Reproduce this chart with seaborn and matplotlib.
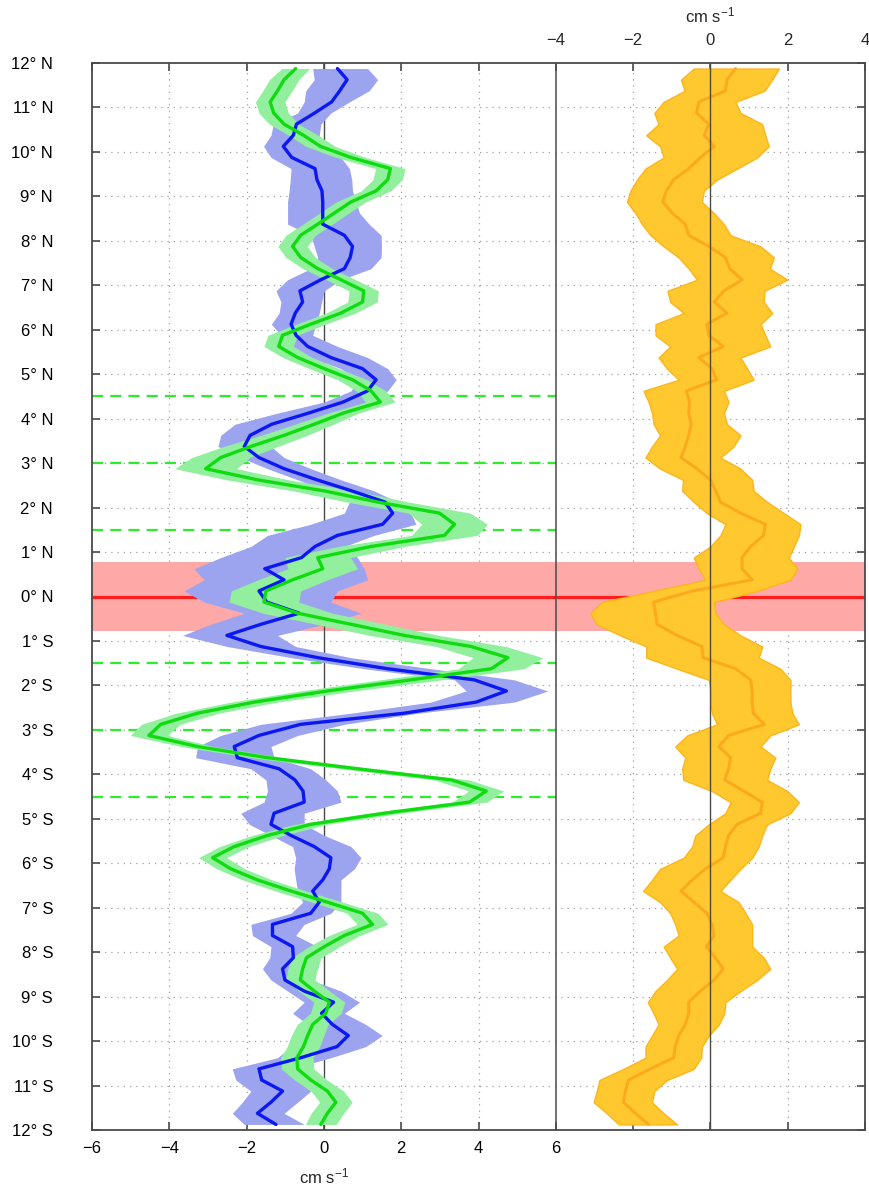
import numpy as np
import pandas as pd
import matplotlib
matplotlib.use("Agg")
import matplotlib.pyplot as plt
import matplotlib.transforms as mtransforms
import seaborn as sns

# ---- latitude grid of the profiles (0.25 degree spacing, north to south) ----
lat = np.arange(11.875, -12.0, -0.25)

# ---- left panel: blue profile with its uncertainty envelope (cm/s) ----
blue_mean = [0.35, 0.60, 0.41, 0.20, -0.24, -0.71, -0.79, -1.05, -0.83, -0.23,
             -0.18, -0.05, -0.03, -0.03, -0.03, 0.53, 0.74, 0.68, 0.53, -0.08,
             -0.62, -0.55, -0.74, -0.85, -0.72, -0.42, 0.18, 1.00, 1.35, 1.13,
             0.50, -0.40, -1.35, -1.91, -2.06, -1.68, -1.03, -0.18, 0.72, 1.58,
             1.78, 1.52, 0.35, -0.23, -0.58, -1.53, -1.03, -1.68, -1.48, -0.64,
             -1.63, -2.51, -1.63, -0.16, 1.65, 3.89, 4.72, 3.94, 2.08, -0.60,
             -1.68, -2.32, -2.24, -1.16, -0.75, -0.54, -0.51, -1.29, -1.37, -0.85,
             -0.25, 0.18, 0.14, -0.03, -0.29, -0.12, -0.34, -1.33, -1.33, -0.81,
             -0.79, -1.07, -1.01, -0.51, 0.25, -0.06, 0.22, 0.63, 0.34, -0.60,
             -1.68, -1.61, -1.07, -1.37, -1.72, -1.24]
blue_lo = [-0.29, -0.25, -0.47, -0.51, -0.68, -1.31, -1.37, -1.56, -1.37, -0.85,
           -0.87, -0.90, -0.94, -0.94, -0.94, -0.34, -0.25, -0.16, -0.34, -0.94,
           -1.24, -1.11, -1.16, -1.36, -1.11, -0.85, -0.34, 0.44, 0.87, 0.70,
           0.01, -1.20, -2.30, -2.67, -2.74, -2.15, -1.46, -0.68, 0.09, 0.66,
           0.53, -0.34, -1.46, -1.89, -2.67, -3.36, -3.10, -3.62, -3.10, -2.06,
           -2.93, -3.66, -2.50, -0.85, 1.04, 3.38, 3.68, 2.77, 0.70, -1.63,
           -2.67, -3.27, -3.32, -1.89, -1.50, -1.46, -1.55, -2.15, -1.93, -1.37,
           -0.81, -0.73, -0.77, -0.73, -0.68, -0.55, -0.85, -1.89, -1.85, -1.37,
           -1.40, -1.59, -1.37, -0.94, -0.51, -0.81, -0.42, -0.68, -0.85, -1.20,
           -2.37, -2.28, -1.89, -2.11, -2.37, -2.06]
blue_hi = [1.13, 1.39, 1.17, 0.66, 0.18, -0.08, -0.12, 0.01, 0.44, 0.66,
           0.72, 0.74, 0.83, 0.92, 1.17, 1.48, 1.49, 1.48, 1.22, 0.44,
           0.01, -0.06, -0.12, -0.21, -0.29, 0.35, 1.13, 1.65, 1.87, 1.65,
           1.30, 0.20, -0.60, -1.29, -1.37, -1.03, -0.34, 0.44, 1.30, 1.91,
           2.25, 2.38, 1.30, 0.53, 0.87, 1.04, 1.13, 0.35, 0.18, 0.96,
           0.01, -1.20, -0.73, 0.70, 2.77, 4.93, 5.79, 4.93, 2.43, 0.53,
           -0.68, -1.37, -1.29, -0.34, 0.05, 0.35, 0.44, -0.51, -0.51, 0.01,
           0.70, 0.96, 0.79, 0.44, 0.44, 0.44, 0.18, -0.51, -0.73, -0.16,
           -0.10, -0.16, -0.34, 0.44, 0.92, 0.53, 1.08, 1.51, 1.08, 0.18,
           -0.85, -0.68, -0.34, -0.68, -1.03, -0.51]

# ---- left panel: green profile and its half-width ----
green_mean = [-0.73, -1.03, -1.20, -1.39, -1.30, -1.03, -0.53, -0.09, 0.70, 1.72,
              1.65, 1.35, 0.70, 0.27, -0.16, -0.60, -0.81, -0.60, -0.16, 0.44,
              1.03, 1.00, 0.44, -0.34, -1.07, -1.17, -0.68, 0.01, 0.74, 1.22,
              1.46, 0.50, -0.25, -1.03, -1.89, -2.67, -3.06, -1.72, 0.01, 1.39,
              2.99, 3.38, 3.12, 1.22, -0.16, -0.03, -0.81, -1.50, -1.55, -0.68,
              0.70, 2.08, 3.81, 4.76, 4.33, 2.25, 0.09, -1.80, -3.27, -4.22,
              -4.53, -3.27, -1.46, 0.87, 3.30, 4.20, 3.77, 1.56, -0.34, -1.46,
              -2.32, -2.88, -2.41, -1.72, -0.85, 0.09, 1.00, 1.26, 0.53, 0.01,
              -0.45, -0.55, -0.61, -0.25, 0.14, 0.05, -0.29, -0.42, -0.53, -0.70,
              -0.68, -0.34, 0.09, 0.31, 0.09, -0.08]
green_err = [0.36, 0.38, 0.38, 0.38, 0.38, 0.38, 0.38, 0.38, 0.38, 0.38,
             0.38, 0.38, 0.38, 0.38, 0.38, 0.38, 0.38, 0.38, 0.38, 0.38,
             0.38, 0.38, 0.38, 0.38, 0.38, 0.38, 0.38, 0.38, 0.38, 0.38,
             0.38, 0.40, 0.50, 0.60, 0.70, 0.75, 0.80, 0.80, 0.80, 0.80,
             0.80, 0.85, 0.85, 0.85, 0.85, 0.90, 0.90, 0.90, 0.90, 0.90,
             0.90, 0.90, 0.90, 0.90, 0.85, 0.80, 0.70, 0.60, 0.55, 0.50,
             0.48, 0.42, 0.42, 0.42, 0.45, 0.45, 0.45, 0.42, 0.42, 0.40,
             0.38, 0.36, 0.36, 0.38, 0.40, 0.40, 0.40, 0.40, 0.40, 0.40,
             0.38, 0.38, 0.38, 0.40, 0.40, 0.40, 0.40, 0.42, 0.42, 0.42,
             0.42, 0.42, 0.42, 0.42, 0.42, 0.40]

# ---- right panel: orange profile with its envelope (cm/s) ----
orange_mean = [0.65, 0.43, 0.39, -0.30, -0.36, -0.04, -0.16, 0.10, -0.26, -0.56,
               -0.95, -1.14, -1.23, -0.99, -0.65, -0.56, -0.04, 0.39, 0.50, 0.82,
               0.35, 0.10, 0.43, -0.09, -0.04, 0.33, -0.30, 0.04, 0.16, -0.62,
               -0.54, -0.56, -0.50, -0.56, -0.65, -0.76, -0.35, 0.00, 0.14, 0.26,
               0.78, 1.42, 1.38, 1.04, 0.82, 0.82, 1.08, -0.45, -1.47, -1.42,
               -1.38, -0.86, -0.22, -0.19, 0.65, 1.04, 1.08, 1.08, 1.11, 1.40,
               0.47, 0.22, 0.52, 0.47, 0.37, 0.86, 1.34, 1.30, 0.69, 0.47,
               0.39, 0.33, -0.13, -0.47, -0.76, -0.43, -0.09, 0.04, 0.09, -0.10,
               0.13, 0.33, 0.10, -0.26, -0.56, -0.56, -0.65, -0.82, -0.91, -0.95,
               -1.55, -2.12, -2.20, -2.25, -1.94, -1.60]
orange_lo = [-0.43, -0.76, -0.67, -1.21, -1.45, -1.34, -1.66, -1.30, -1.21, -1.68,
             -1.90, -2.07, -2.16, -1.94, -1.77, -1.55, -1.21, -0.82, -0.56, -0.35,
             -1.11, -1.04, -0.69, -1.42, -1.42, -1.04, -1.34, -1.12, -0.82, -1.73,
             -1.60, -1.51, -1.47, -1.30, -1.51, -1.68, -1.30, -0.71, -0.73, -0.43,
             -0.09, 0.39, 0.26, 0.00, -0.43, -0.30, -0.13, -1.47, -2.81, -3.11,
             -2.94, -2.33, -1.66, -1.66, -0.86, -0.04, 0.00, 0.00, 0.04, 0.17,
             -0.60, -0.91, -0.65, -0.73, -0.70, 0.04, 0.52, 0.39, -0.04, -0.39,
             -0.47, -0.69, -1.30, -1.51, -1.74, -1.30, -1.04, -0.91, -0.82, -1.21,
             -1.04, -0.86, -1.12, -1.42, -1.62, -1.47, -1.34, -1.51, -1.68, -1.68,
             -2.25, -2.87, -2.94, -3.02, -2.68, -2.37]
orange_hi = [1.77, 1.60, 1.40, 0.65, 0.78, 1.34, 1.42, 1.51, 1.21, 0.69,
             0.17, -0.17, -0.22, 0.09, 0.35, 0.52, 1.30, 1.64, 1.54, 1.99,
             1.40, 1.38, 1.60, 1.30, 1.42, 1.55, 0.78, 0.95, 1.12, 0.35,
             0.47, 0.35, 0.43, 0.78, 0.60, 0.26, 0.78, 1.08, 1.12, 1.47,
             1.90, 2.33, 2.29, 2.16, 2.03, 2.25, 2.07, 1.21, 0.09, 0.13,
             0.35, 0.78, 1.34, 1.25, 1.81, 2.07, 2.07, 2.07, 2.12, 2.29,
             1.55, 1.30, 1.68, 1.55, 1.47, 1.99, 2.29, 2.07, 1.47, 1.34,
             1.25, 1.08, 0.78, 0.52, 0.26, 0.73, 0.91, 1.08, 1.08, 1.08,
             1.38, 1.55, 1.21, 0.78, 0.39, 0.36, 0.22, -0.04, -0.22, -0.24,
             -0.43, -1.12, -1.45, -1.51, -1.21, -0.86]

# ---- axes furniture ----
RIGHT_ZERO = 10          # the right panel's zero sits at x = 10 of the shared axis
PANEL_SPLIT = 6
lat_ticks = list(range(12, -13, -1))
lat_labels = [f"{abs(v)}° {'N' if v >= 0 else 'S'}" for v in lat_ticks]
bottom_ticks = [-6, -4, -2, 0, 2, 4, 6]
top_ticks = [-4, -2, 0, 2, 4]
dashed_lats = [4.5, 3.0, 1.5, -1.5, -3.0, -4.5]
eq_half_width = 0.78
unit_label = "cm s$^{-1}$"

# ---- colours ----
C_BLUE, C_BLUE_BAND = "#0b18f2", "#9ca4ef"
C_GREEN, C_GREEN_BAND = "#0fdc0f", "#92ef9e"
C_ORANGE, C_ORANGE_BAND, C_ORANGE_EDGE = "#fbaa1e", "#fec82e", "#fdb51c"
C_RED, C_RED_BAND = "#ff1c1c", "#ffa8a8"
C_DASH = "#2cec2c"
C_DARK = "#4a4a4a"

sns.set_theme(style="white")
plt.rcParams["font.family"] = ["Liberation Sans", "DejaVu Sans"]
plt.rcParams["mathtext.fontset"] = "custom"
plt.rcParams["mathtext.rm"] = "Liberation Sans"
plt.rcParams["mathtext.it"] = "Liberation Sans:italic"
plt.rcParams["mathtext.bf"] = "Liberation Sans:bold"

df = pd.DataFrame({
    "lat": lat,
    "blue": blue_mean, "blue_lo": blue_lo, "blue_hi": blue_hi,
    "green": green_mean, "green_err": green_err,
    "orange": np.asarray(orange_mean) + RIGHT_ZERO,
    "orange_lo": np.asarray(orange_lo) + RIGHT_ZERO,
    "orange_hi": np.asarray(orange_hi) + RIGHT_ZERO,
})

W, H = 869, 1185
fig = plt.figure(figsize=(W / 100, H / 100), dpi=100)
ax = fig.add_axes([92 / W, 1 - 1130 / H, 773 / W, 1067 / H])
ax.set_xlim(-6, 14)
ax.set_ylim(-12, 12)

# dotted grid
grid_kw = dict(color="#a0a0a0", lw=0.9, ls=(0, (1, 4)), zorder=0.5)
for v in [-4, -2, 2, 4, 8, 12]:
    ax.axvline(v, **grid_kw)
for v in lat_ticks[1:-1]:
    ax.axhline(v, **grid_kw)

# equatorial band and line
ax.axhspan(-eq_half_width, eq_half_width, color=C_RED_BAND, lw=0, zorder=1)
ax.axhline(0, color=C_RED, lw=2.3, zorder=1.2)

# zero line of the left panel (below the envelopes)
ax.axvline(0, color=C_DARK, lw=1.0, zorder=1.3)

# dashed reference latitudes in the left panel
for v in dashed_lats:
    ax.plot([-6, PANEL_SPLIT], [v, v], color=C_DASH, lw=1.6,
            ls=(0, (5, 3.2)), zorder=1.4)

# envelopes
ax.fill_betweenx(df["lat"], df["blue_lo"], df["blue_hi"],
                 color=C_BLUE_BAND, lw=0, zorder=2)
ax.fill_betweenx(df["lat"], df["green"] - df["green_err"],
                 df["green"] + df["green_err"],
                 color=C_GREEN_BAND, lw=0, zorder=2.1)
ax.fill_betweenx(df["lat"], df["orange_lo"], df["orange_hi"],
                 facecolor=C_ORANGE_BAND, edgecolor=C_ORANGE_EDGE, lw=1.0,
                 zorder=2.2)

# profiles
sns.lineplot(data=df, x="blue", y="lat", orient="y", sort=False, estimator=None,
             color=C_BLUE, lw=2.4, ax=ax, zorder=3)
sns.lineplot(data=df, x="green", y="lat", orient="y", sort=False, estimator=None,
             color=C_GREEN, lw=2.4, ax=ax, zorder=3.1)
sns.lineplot(data=df, x="orange", y="lat", orient="y", sort=False, estimator=None,
             color=C_ORANGE, lw=2.2, ax=ax, zorder=3.2)

# panel divider and right-panel zero line
ax.axvline(PANEL_SPLIT, color=C_DARK, lw=1.1, zorder=4)
ax.axvline(RIGHT_ZERO, color=C_DARK, lw=1.0, zorder=4)

ax.set_xlabel("")
ax.set_ylabel("")

# ticks
all_x = list(range(-6, 15, 2))
ax.set_xticks(all_x)
ax.set_xticklabels([f"{v:d}".replace("-", "\u2212") if v in bottom_ticks else ""
                    for v in all_x])
ax.set_yticks(lat_ticks)
ax.set_yticklabels(lat_labels)
ax.tick_params(axis="x", direction="in", length=6, width=1.2, color=C_DARK,
               top=True, bottom=True, labelsize=12, pad=8, labelcolor="black")
ax.tick_params(axis="y", direction="in", length=6, width=1.2, color=C_DARK,
               left=True, right=True, labelsize=12, pad=28, labelcolor="black")
for t in ax.get_yticklabels():
    t.set_ha("right")

for s in ax.spines.values():
    s.set_color(C_DARK)
    s.set_linewidth(1.3)
    s.set_zorder(5)

# right panel scale along the top
sec = ax.secondary_xaxis("top", functions=(lambda x: x - RIGHT_ZERO,
                                           lambda x: x + RIGHT_ZERO))
sec.set_xticks(top_ticks)
sec.set_xticklabels([f"{v:d}".replace("-", "\u2212") for v in top_ticks])
sec.tick_params(length=0, labelsize=12, pad=11)
sec.spines["top"].set_visible(False)

# unit labels
bt = mtransforms.blended_transform_factory(ax.transData, ax.transAxes)
ax.text(0, -0.044, unit_label, transform=bt, ha="center", va="center", fontsize=12)
ax.text(RIGHT_ZERO, 1.045, unit_label, transform=bt, ha="center", va="center",
        fontsize=12)

fig.savefig("out.png", dpi=100)
